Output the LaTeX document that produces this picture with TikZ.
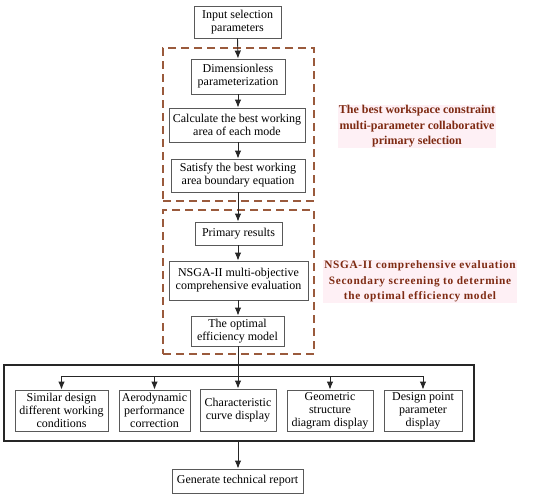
\documentclass[tikz,border=0pt]{standalone}
\usepackage{fontspec}
\setmainfont{Liberation Serif}
\newfontfamily\spacedbold[LetterSpace=6]{Liberation Serif}
\usetikzlibrary{arrows.meta}
\definecolor{lab}{HTML}{7E2A12}
\definecolor{dash}{HTML}{9A5A3C}
\definecolor{hl}{HTML}{FEF0F5}
\tikzset{
  box/.style={draw=black!65, line width=0.9pt, fill=white, align=center, inner sep=0pt,
    font=\fontsize{12}{13}\selectfont},
  dbox/.style={draw=dash, line width=1.5pt, dash pattern=on 8pt off 5pt, inner sep=0pt},
  arr/.style={line width=0.9pt, draw=black!85, -{Latex[length=8pt,width=6.5pt]}},
  lbl/.style={text=lab, align=center, fill=hl, inner sep=1pt}
}
\begin{document}
\begin{tikzpicture}[x=1pt,y=-1pt]
\useasboundingbox (0,0) rectangle (550,499);
% dashed groups
\node[dbox, minimum width=151pt, minimum height=153pt] (d1) at (238.5,124.5) {};
\node[dbox, minimum width=151pt, minimum height=144pt] (d2) at (238.5,282) {};
% outer box
\node[draw=black!85, line width=1.2pt, minimum width=470pt, minimum height=76pt, inner sep=0pt] (big) at (239,403) {};
% main boxes
\node[box, minimum width=87pt, minimum height=32pt] (in) at (237.5,22) {Input selection\\parameters};
\node[box, minimum width=94pt, minimum height=35pt] (dim) at (238,76.5) {Dimensionless\\parameterization};
\node[box, minimum width=136pt, minimum height=34pt] (calc) at (237,125) {Calculate the best working\\area of each mode};
\node[box, minimum width=134pt, minimum height=33pt] (sat) at (238,175.5) {Satisfy the best working\\area boundary equation};
\node[box, minimum width=87pt, minimum height=23pt] (prim) at (238.5,233.5) {Primary results};
\node[box, minimum width=139pt, minimum height=39pt] (nsga) at (238.5,280.5) {NSGA-II multi-objective\\comprehensive evaluation};
\node[box, minimum width=93pt, minimum height=30pt] (opt) at (237.5,331) {The optimal\\efficiency model};
% sub boxes
\node[box, minimum width=93pt, minimum height=41pt] (b1) at (61.5,410.5) {Similar design\\different working\\conditions};
\node[box, minimum width=71pt, minimum height=41pt] (b2) at (154.5,410.5) {Aerodynamic\\performance\\correction};
\node[box, minimum width=76pt, minimum height=42pt] (b3) at (238,410) {Characteristic\\curve display};
\node[box, minimum width=86pt, minimum height=41pt] (b4) at (330,410.5) {Geometric\\structure\\diagram display};
\node[box, minimum width=78pt, minimum height=41pt] (b5) at (423,410.5) {Design point\\parameter\\display};
\node[box, minimum width=131pt, minimum height=24pt] (gen) at (237.5,481) {Generate technical report};
% labels
\node[lbl, font=\bfseries\fontsize{12}{15.5}\selectfont] (l1) at (417,126.5) {The best workspace constraint\\multi-parameter collaborative\\primary selection};
\node[lbl, font=\spacedbold\bfseries\fontsize{11.3}{15.5}\selectfont] (l2) at (420,281.5) {NSGA-II comprehensive evaluation\\Secondary screening to determine\\the optimal efficiency model};
% arrows
\draw[arr] (in.south) -- (dim.north);
\draw[arr] (dim.south) -- (calc.north -| dim.south);
\draw[arr] (calc.south -| sat.north) -- (sat.north);
\draw[arr] (sat.south) -- (prim.north -| sat.south);
\draw[arr] (prim.south -| sat.south) -- (nsga.north -| sat.south);
\draw[arr] (nsga.south -| sat.south) -- (opt.north -| sat.south);
\draw[arr] (opt.south -| sat.south) -- (b3.north -| sat.south);
\coordinate (bus) at (0,376);
\draw[line width=0.9pt, draw=black!85] (bus -| b1.north) -- (bus -| b5.north);
\foreach \b in {b1,b2,b4,b5}{\draw[arr] (bus -| \b.north) -- (\b.north);}
\draw[arr] (big.south -| sat.south) -- (gen.north -| sat.south);
\end{tikzpicture}
\end{document}
